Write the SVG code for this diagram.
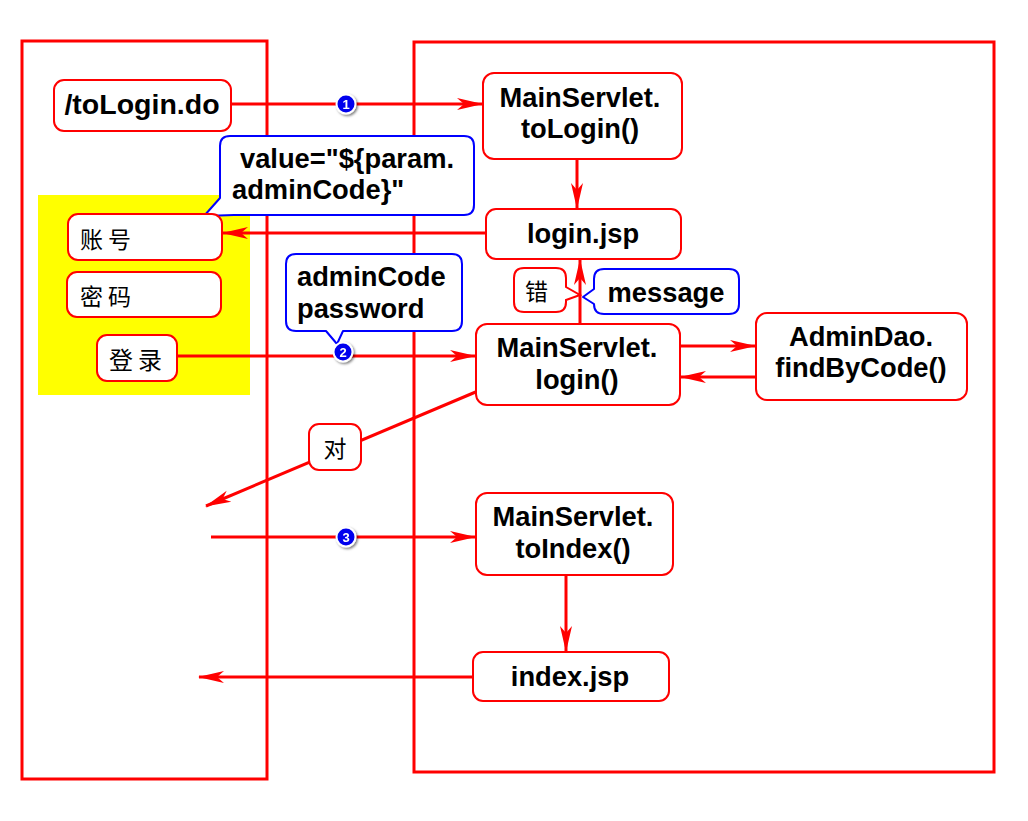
<svg xmlns="http://www.w3.org/2000/svg" width="1028" height="821" viewBox="0 0 1028 821">
<style>
.frame{fill:none;stroke:#ff0000;stroke-width:3}
.box{fill:#fff;stroke:#ff0000;stroke-width:2}
.call{fill:#fff;stroke:#0000ff;stroke-width:2;stroke-linejoin:round}
.con{fill:none;stroke:#ff0000;stroke-width:3}
.t{font-family:"Liberation Sans",Arial,sans-serif;font-weight:bold;font-size:27.3px;fill:#000}
.c{text-anchor:middle}
.cn{font-family:"Noto Sans CJK SC",sans-serif;font-size:23px;fill:#000;letter-spacing:5px}
.num{font-family:"Liberation Sans",Arial,sans-serif;font-weight:bold;font-size:13px;fill:#fff;text-anchor:middle}
.dot{fill:#0000ee;stroke:#fff;stroke-width:2}
</style>
<defs>
<marker id="ah" markerUnits="userSpaceOnUse" markerWidth="26" markerHeight="14" viewBox="0 0 26 14" refX="25" refY="7" orient="auto">
<path d="M26,7 L0,1 L7,7 L0,13 Z" fill="#ff0000"/>
</marker>
<filter id="sh" x="-50%" y="-50%" width="200%" height="200%">
<feDropShadow dx="1.5" dy="1.5" stdDeviation="1.2" flood-color="#000" flood-opacity="0.5"/>
</filter>
</defs>
<rect width="1028" height="821" fill="#fff"/>
<g id="frames">
<rect class="frame" x="22" y="41" width="245" height="738"/>
<rect class="frame" x="414" y="42" width="580" height="730"/>
</g>
<rect id="form-bg" x="38" y="195" width="212" height="200" fill="#ffff00"/>
<g id="connectors">
<line class="con" x1="232" y1="104" x2="482" y2="104" marker-end="url(#ah)"/>
<line class="con" x1="577" y1="159" x2="577" y2="208" marker-end="url(#ah)"/>
<line class="con" x1="486" y1="233" x2="223" y2="233" marker-end="url(#ah)"/>
<line class="con" x1="177" y1="356" x2="475" y2="356" marker-end="url(#ah)"/>
<line class="con" x1="580" y1="324" x2="580" y2="260" marker-end="url(#ah)"/>
<line class="con" x1="680" y1="346" x2="755" y2="346" marker-end="url(#ah)"/>
<line class="con" x1="756" y1="377" x2="681" y2="377" marker-end="url(#ah)"/>
<line class="con" x1="478" y1="391" x2="206" y2="506" marker-end="url(#ah)"/>
<line class="con" x1="211" y1="537" x2="475" y2="537" marker-end="url(#ah)"/>
<line class="con" x1="566" y1="575" x2="566" y2="651" marker-end="url(#ah)"/>
<line class="con" x1="484" y1="677" x2="199" y2="677" marker-end="url(#ah)"/>
</g>
<g id="toLoginDo">
<rect class="box" x="54" y="80" width="177" height="51" rx="10"/>
<text class="t c" x="142" y="114" style="font-size:28.5px">/toLogin.do</text>
</g>
<g id="mainToLogin">
<rect class="box" x="483" y="73" width="199" height="86" rx="11"/>
<text class="t c" x="580" y="107">MainServlet.</text>
<text class="t c" x="580" y="138">toLogin()</text>
</g>
<g id="loginJsp">
<rect class="box" x="486" y="209" width="195" height="50" rx="10"/>
<text class="t c" x="583" y="243">login.jsp</text>
</g>
<g id="valueCallout">
<path class="call" d="M230,136 H464 Q474,136 474,146 V205 Q474,215 464,215 H234 L204,216 L220,198 V146 Q220,136 230,136 Z"/>
<text class="t" x="240" y="168">value="${param.</text>
<text class="t" x="232" y="199">adminCode}"</text>
</g>
<g id="account">
<rect class="box" x="68" y="214" width="154" height="46" rx="10"/>
<text class="cn" x="80" y="248">账号</text>
</g>
<g id="password">
<rect class="box" x="67" y="272" width="154" height="45" rx="10"/>
<text class="cn" x="80" y="305">密码</text>
</g>
<g id="loginBtn">
<rect class="box" x="97" y="335" width="80" height="46" rx="10"/>
<text class="cn" x="109" y="369" style="font-size:24px">登录</text>
</g>
<g id="paramCallout">
<path class="call" d="M296,254 H452 Q462,254 462,264 V321 Q462,331 452,331 H343 L337,344 L326,331 H296 Q286,331 286,321 V264 Q286,254 296,254 Z"/>
<text class="t" x="297" y="286">adminCode</text>
<text class="t" x="297" y="318">password</text>
</g>
<g id="mainLogin">
<rect class="box" x="476" y="324" width="204" height="81" rx="11"/>
<text class="t c" x="577" y="357">MainServlet.</text>
<text class="t c" x="577" y="389">login()</text>
</g>
<g id="errLabel">
<path class="box" d="M524,268 H556 Q566,268 566,278 V287 L580,295 L566,300 V302 Q566,312 556,312 H524 Q514,312 514,302 V278 Q514,268 524,268 Z"/>
<text class="cn" x="525" y="300" style="letter-spacing:0">错</text>
</g>
<g id="messageCallout">
<path class="call" d="M604,269 H729 Q739,269 739,279 V304 Q739,314 729,314 H604 Q594,314 594,304 V304 L583,297 L594,289 V279 Q594,269 604,269 Z"/>
<text class="t c" x="666" y="302">message</text>
</g>
<g id="adminDao">
<rect class="box" x="756" y="313" width="211" height="87" rx="11"/>
<text class="t c" x="861" y="346">AdminDao.</text>
<text class="t c" x="861" y="377">findByCode()</text>
</g>
<g id="okLabel">
<rect class="box" x="309" y="424" width="52" height="46" rx="10"/>
<text class="cn c" x="335" y="457" style="letter-spacing:0">对</text>
</g>
<g id="mainToIndex">
<rect class="box" x="476" y="493" width="197" height="82" rx="11"/>
<text class="t c" x="573" y="526">MainServlet.</text>
<text class="t c" x="573" y="558">toIndex()</text>
</g>
<g id="indexJsp">
<rect class="box" x="473" y="652" width="196" height="49" rx="10"/>
<text class="t c" x="570" y="686">index.jsp</text>
</g>
<g id="step1" filter="url(#sh)">
<circle class="dot" cx="346" cy="104" r="9.5"/>
<text class="num" x="346" y="109">1</text>
</g>
<g id="step2" filter="url(#sh)">
<circle class="dot" cx="343" cy="352" r="9.5"/>
<text class="num" x="343" y="357">2</text>
</g>
<g id="step3" filter="url(#sh)">
<circle class="dot" cx="346" cy="537" r="9.5"/>
<text class="num" x="346" y="542">3</text>
</g>
</svg>
